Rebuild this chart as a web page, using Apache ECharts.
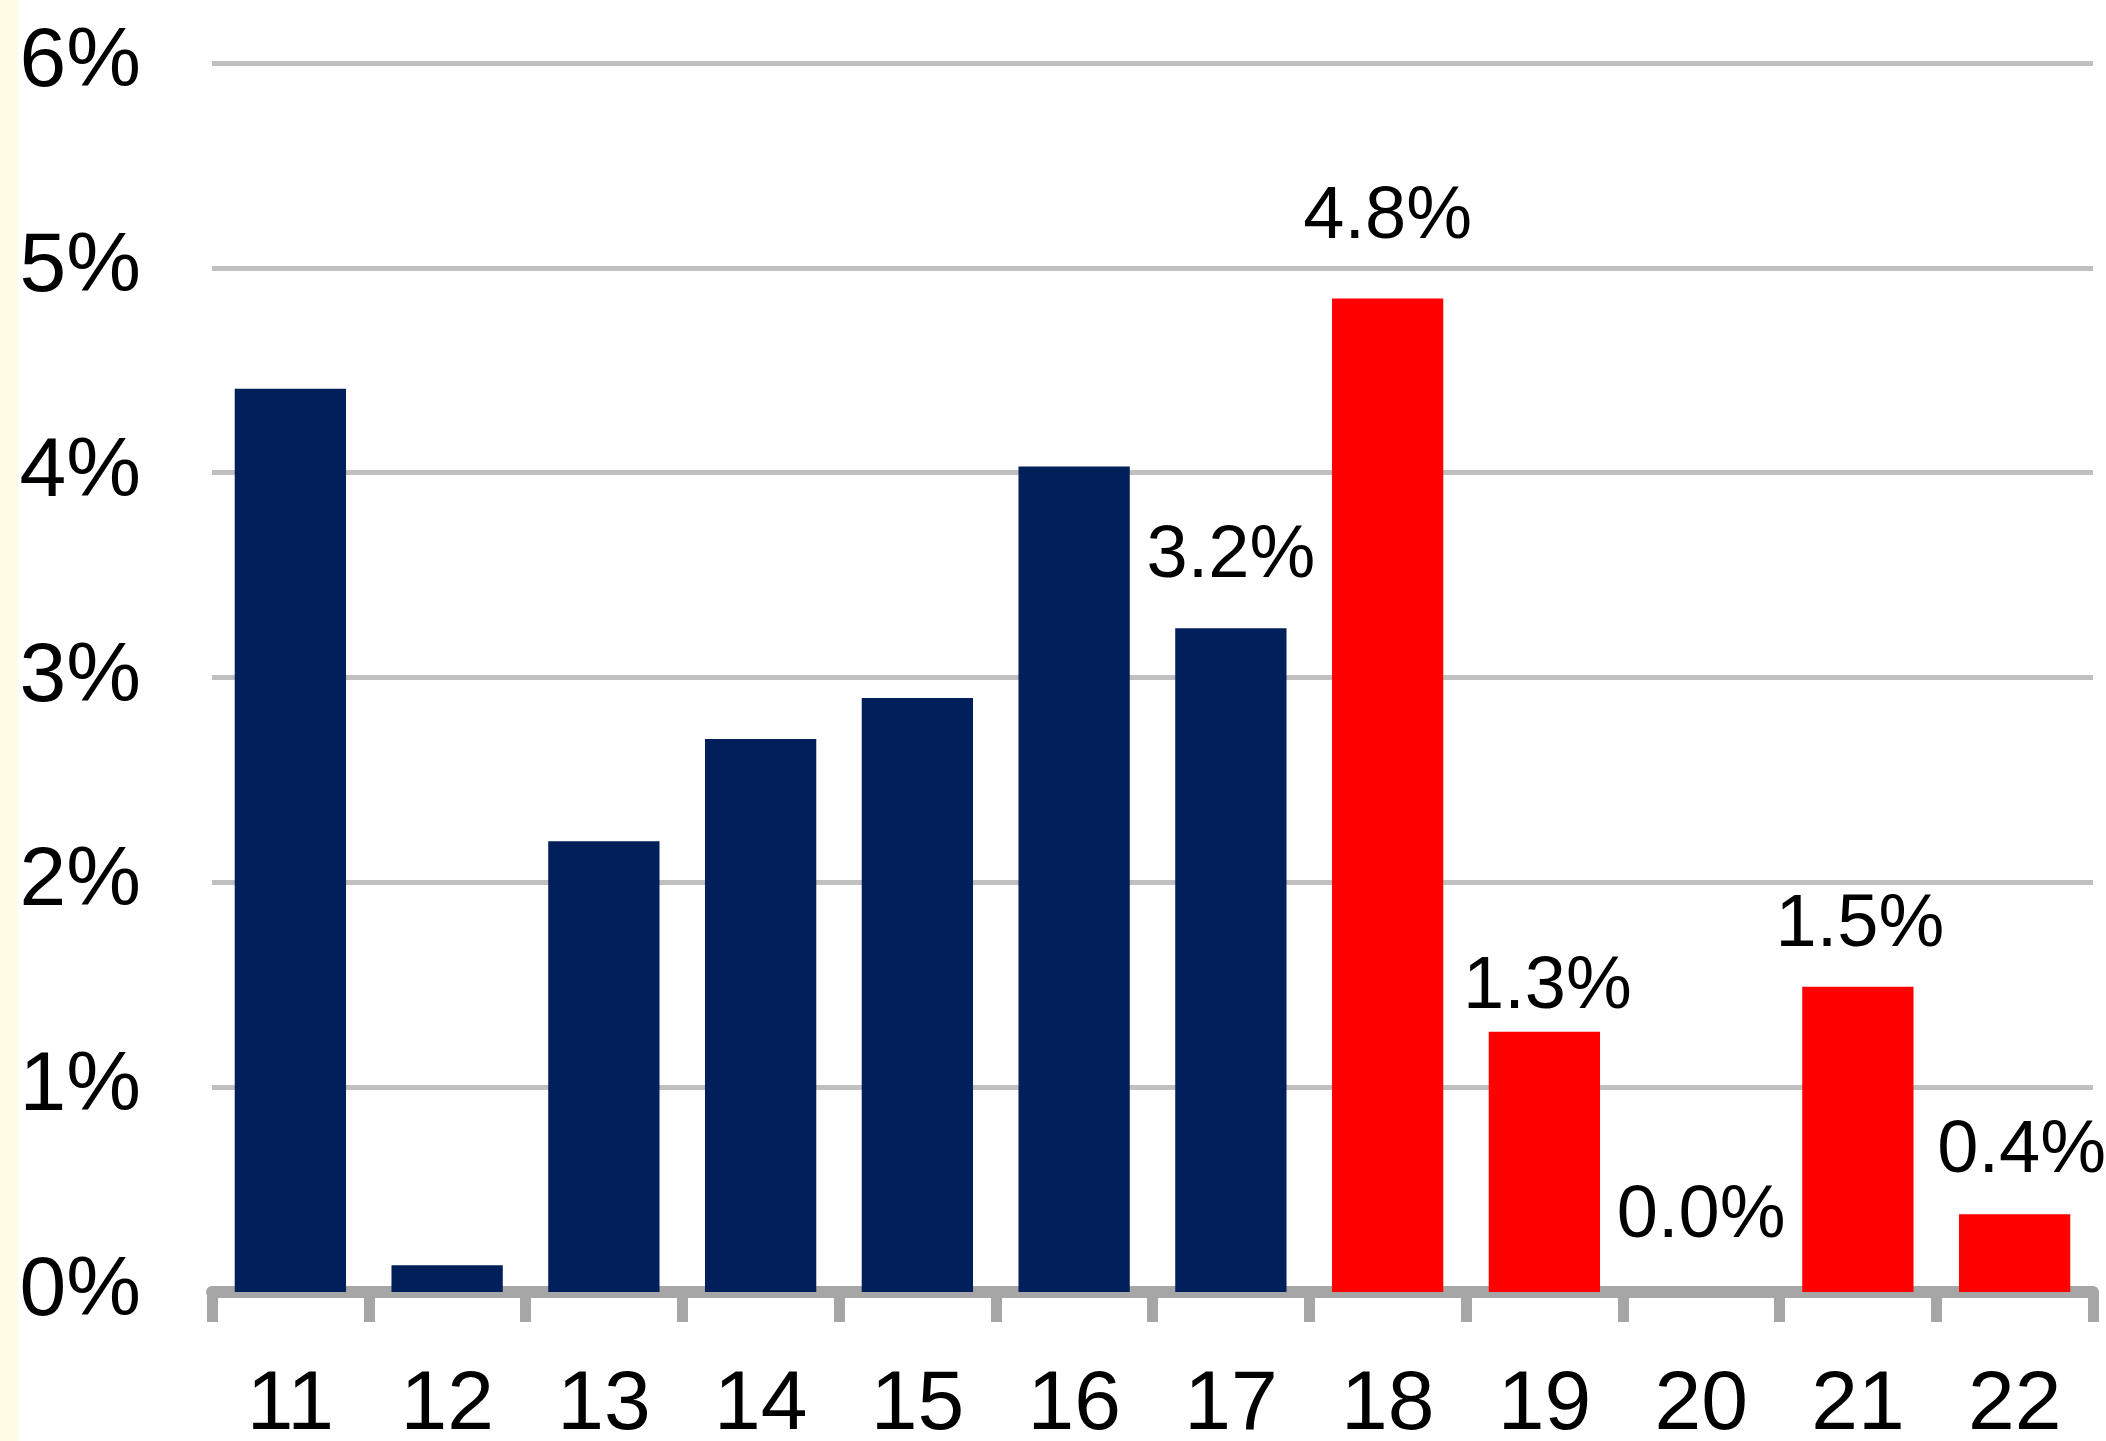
<!DOCTYPE html>
<html>
<head>
<meta charset="utf-8">
<script src="https://cdn.jsdelivr.net/npm/echarts@6/dist/echarts.min.js"></script>
<style>
html,body{margin:0;padding:0;background:#fff;}
#chart{width:2106px;height:1441px;background:linear-gradient(to right,#fffbe4 0,#fffbe4 18px,#ffffff 18px);}
</style>
</head>
<body>
<div id="chart"></div>
<script>
// ---- data ----
var categories = ['11','12','13','14','15','16','17','18','19','20','21','22'];
var values = [4.41, 0.13, 2.20, 2.70, 2.90, 4.03, 3.24, 4.85, 1.27, 0.00, 1.49, 0.38];
var labelTexts = ['', '', '', '', '', '', '3.2%', '4.8%', '1.3%', '0.0%', '1.5%', '0.4%'];
var yTicks = [0, 1, 2, 3, 4, 5, 6];

// ---- styles ----
var NAVY = '#001f5b';
var RED = '#ff0000';
var colorFromIndex = 7; // categories from '18' onward in red
var labelDistance = [0, 0, 0, 0, 0, 0, 35, 44, 7, 38, 24, 26];
var labelShiftX = [0, 0, 0, 0, 0, 0, 0, 0, 3, 0, 2, 7];
var FONT = '"Liberation Sans", Arial, sans-serif';

var seriesData = values.map(function (v, i) {
  var item = {
    value: v,
    itemStyle: { color: i >= colorFromIndex ? RED : NAVY }
  };
  if (labelTexts[i]) {
    item.label = {
      show: true,
      position: 'top',
      distance: labelDistance[i],
      offset: [labelShiftX[i], 0],
      formatter: labelTexts[i]
    };
  }
  return item;
});

var chart = echarts.init(document.getElementById('chart'), null, { renderer: 'canvas' });
chart.setOption({
  animation: false,
  backgroundColor: 'transparent',
  grid: { left: 212, right: 13, top: 63, bottom: 149, containLabel: false, outerBoundsMode: 'none' },
  xAxis: {
    type: 'category',
    data: categories,
    boundaryGap: true,
    axisLine: { show: true, lineStyle: { color: '#a6a6a6', width: 12 } },
    axisTick: { show: true, alignWithLabel: false, length: 30, lineStyle: { color: '#a6a6a6', width: 11 } },
    axisLabel: { color: '#000', fontFamily: FONT, fontSize: 84, margin: 72 },
    splitLine: { show: false }
  },
  yAxis: {
    type: 'value',
    min: yTicks[0],
    max: yTicks[yTicks.length - 1],
    interval: 1,
    axisLine: { show: false },
    axisTick: { show: false },
    axisLabel: { color: '#000', fontFamily: FONT, fontSize: 84, margin: 71, formatter: '{value}%' },
    splitLine: { show: true, lineStyle: { color: '#c0c0c0', width: 5 } }
  },
  series: [{
    type: 'bar',
    data: seriesData,
    barCategoryGap: '29%',
    label: { show: false, color: '#000', fontFamily: FONT, fontSize: 74 }
  }]
});
</script>
</body>
</html>
